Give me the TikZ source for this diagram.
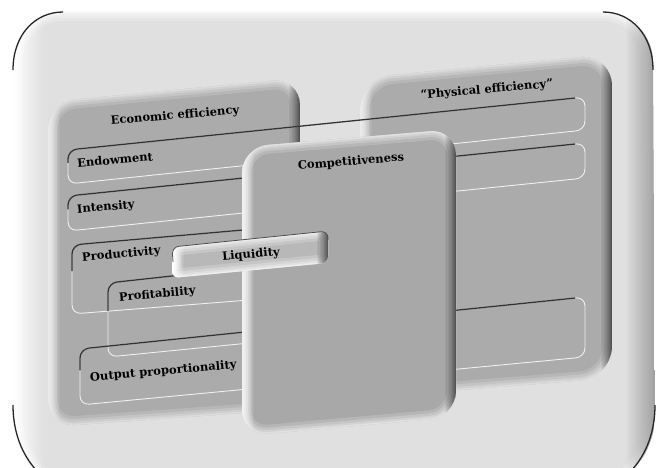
\documentclass[tikz,border=0pt]{standalone}
\usepackage{fontspec}
\setmainfont{DejaVu Serif}
\usetikzlibrary{calc,fadings}
\tikzfading[name=fadeR, left color=transparent!100, right color=transparent!0]
\tikzfading[name=fadeL, left color=transparent!0, right color=transparent!100]
\colorlet{pM}{gray}
\colorlet{pL}{white}
\colorlet{pD}{black}
\newcommand\bevelpanel[4]{%
  \begin{scope}
    \clip #1;
    \fill[pM] #1;
    \foreach \w/\o in {18/0.2,12/0.25,7/0.3,3/0.45}{\draw[pL, line width=\w, opacity=\o] #1;}
    \fill[pL, path fading=fadeL] (#2,0) rectangle (#2+#4,500);
    \fill[pD, path fading=fadeR] (#3-#4,0) rectangle (#3,500);
  \end{scope}}
\newcommand\engraved[4]{%
  \draw[lightedge, rounded corners=9] #1 -- #2 -- #3 -- #4 -- cycle;
  \draw[darkedge, rounded corners=9] ($#4!0.62!#1$) -- #1 -- ($#2!10pt!#1$);
}
\tikzset{
  lightedge/.style={draw=white!88!gray, line width=0.9},
  darkedge/.style={draw=black!80, line width=1.3},
  rimline/.style={draw=black!85, line width=1.3},
  lbl/.style={font=\bfseries\fontsize{11.5}{13}\selectfont, inner sep=0pt, text=black, rotate=5},
}
\def\Opath{(13,62) .. controls (13,34.4) and (35.4,12) .. (63,12) -- (603,12) .. controls (630.6,12) and (653,34.4) .. (653,62) -- (655,415) .. controls (655,459.2) and (619.2,495) .. (575,495) -- (93,495) .. controls (48.8,495) and (13,459.2) .. (13,415) -- cycle}
\def\Epath{[rounded corners=27] (48,102) -- (300,78) -- (300,409) -- (48,427) -- cycle}
\def\Ppath{[rounded corners=32] (360,78) -- (612,54) -- (612,378) -- (360,398) -- cycle}
\def\Cpath{[rounded corners=26] (242,147) -- (456,129) -- (456,417) -- (242,436) -- cycle}
\def\Lpath{[rounded corners=7] (172,247) -- (328,231) -- (328,263) -- (172,278) -- cycle}
\begin{document}
\begin{tikzpicture}[x=1pt,y=-1pt]
\useasboundingbox (0,0) rectangle (657,468);
\fill[white] (0,0) rectangle (657,468);
\begin{scope}
  \clip (0,0) rectangle (657,468);
  % outer panel
  \colorlet{pM}{white!88!black}\colorlet{pL}{white}\colorlet{pD}{white!62!black}
  \bevelpanel{\Opath}{13}{655}{30}
  \draw[rimline] (13,70) .. controls (13,34.4) and (35.4,12) .. (63,12);
  \draw[rimline] (603,12) .. controls (630.6,12) and (653,34.4) .. (653,70);
  \draw[rimline] (655,405) .. controls (655,459.2) and (619.2,495) .. (575,495);
  \draw[rimline] (93,495) .. controls (48.8,495) and (13,459.2) .. (13,405);
\end{scope}
% physical and economic panels
\colorlet{pM}{white!67!black}\colorlet{pL}{white!92!black}\colorlet{pD}{white!28!black}
\bevelpanel{\Ppath}{360}{612}{12}
\bevelpanel{\Epath}{48}{300}{12}
% strips
\engraved{(68,150)}{(585,97)}{(585,130)}{(68,184)}
\engraved{(68,196)}{(585,143)}{(585,178)}{(68,231)}
\engraved{(72,245)}{(300,225)}{(300,296)}{(72,314)}
\engraved{(108,283)}{(300,262)}{(300,338)}{(108,357)}
\engraved{(80,349)}{(585,297)}{(585,357)}{(80,405)}
% competitiveness
\colorlet{pM}{white!66!black}\colorlet{pL}{white!95!black}\colorlet{pD}{white!28!black}
\bevelpanel{\Cpath}{242}{456}{12}
% liquidity
\colorlet{pM}{white!72!black}\colorlet{pL}{white}\colorlet{pD}{white!30!black}
\bevelpanel{\Lpath}{172}{328}{12}
\draw[black!70, line width=0.8, rounded corners=7] (173,262) -- (172,247) -- (328,231) -- (328,240);
% labels
\node[lbl] (econ) at (175,116) {Economic efficiency};
\node[lbl] (phys) at (487,90) {``Physical efficiency''};
\node[lbl] (comp) at (351,162) {Competitiveness};
\node[lbl, anchor=west] (endow) at (77,163) {Endowment};
\node[lbl, anchor=west] (inten) at (77,210) {Intensity};
\node[lbl, anchor=west] (prod) at (82,258) {Productivity};
\node[lbl] (liq) at (251,255) {Liquidity};
\node[lbl, anchor=west] (prof) at (119,298) {Profitability};
\node[lbl, anchor=west] (outp) at (90,378) {Output proportionality};
\end{tikzpicture}
\end{document}
